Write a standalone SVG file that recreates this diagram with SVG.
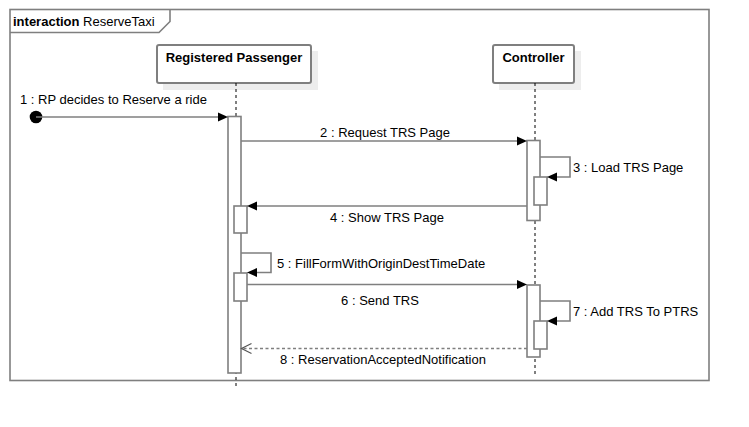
<svg xmlns="http://www.w3.org/2000/svg" width="749" height="427" viewBox="0 0 749 427">
<style>
text{font-family:"Liberation Sans",Arial,sans-serif;font-size:13px;fill:#000}
.b{font-weight:bold}
.frame{fill:none;stroke:#7f7f7f;stroke-width:1.6}
.head{fill:#fff;stroke:#7f7f7f;stroke-width:2}
.shadow{fill:#ededed;stroke:none}
.life{stroke:#000;stroke-width:1;stroke-dasharray:3,3;fill:none}
.act{fill:#fff;stroke:#7f7f7f;stroke-width:1.6}
.msg{fill:none;stroke:#7f7f7f;stroke-width:1.6}
.ret{fill:none;stroke:#7f7f7f;stroke-width:1.6;stroke-dasharray:3,2.5}
.ah{fill:#000;stroke:none}
.oa{fill:none;stroke:#555;stroke-width:1.2}
</style>
<rect width="749" height="427" fill="#fff"/>
<g id="frame">
<rect class="frame" x="10" y="9.5" width="699" height="371"/>
<path class="frame" d="M10,32.5 H159 L170,21.5 V9.5"/>
<text x="13" y="25.5"><tspan class="b">interaction</tspan> ReserveTaxi</text>
</g>
<g id="registered-passenger">
<rect class="shadow" x="163" y="51" width="155" height="39"/>
<rect class="head" x="157" y="45" width="154" height="38" rx="2"/>
<text class="b" x="234" y="62" text-anchor="middle">Registered Passenger</text>
<line class="life" x1="236" y1="83" x2="236" y2="388"/>
<rect class="act" x="228" y="116.5" width="13" height="256.5"/>
<rect class="act" x="234" y="206" width="13" height="27"/>
<rect class="act" x="234" y="273" width="13" height="28"/>
</g>
<g id="controller">
<rect class="shadow" x="499" y="51" width="82" height="39"/>
<rect class="head" x="493" y="45" width="81" height="38" rx="2"/>
<text class="b" x="533.5" y="62" text-anchor="middle">Controller</text>
<line class="life" x1="535" y1="83" x2="535" y2="376"/>
<rect class="act" x="527" y="140.5" width="13" height="80"/>
<rect class="act" x="534" y="177" width="13" height="28"/>
<rect class="act" x="527" y="285" width="13" height="72"/>
<rect class="act" x="534" y="321" width="13" height="28"/>
</g>
<g id="connectors">
<circle cx="36" cy="117" r="6.3" fill="#000"/>
<line class="msg" x1="36" y1="117" x2="220" y2="117"/>
<path class="ah" d="M228,117 L218,112.5 L218,121.5 Z"/>
<text x="20" y="104">1 : RP decides to Reserve a ride</text>

<line class="msg" x1="241" y1="141" x2="519" y2="141"/>
<path class="ah" d="M527,141 L517,136.5 L517,145.5 Z"/>
<text x="385" y="137" text-anchor="middle">2 : Request TRS Page</text>

<path class="msg" d="M540,157 H570 V177 H555"/>
<path class="ah" d="M547,177 L557,172.5 L557,181.5 Z"/>
<text x="573" y="172">3 : Load TRS Page</text>

<line class="msg" x1="527" y1="206" x2="255" y2="206"/>
<path class="ah" d="M247,206 L257,201.5 L257,210.5 Z"/>
<text x="387" y="222" text-anchor="middle">4 : Show TRS Page</text>

<path class="msg" d="M241,253 H271 V272.5 H255"/>
<path class="ah" d="M247,272.5 L257,268 L257,277 Z"/>
<text x="277" y="268">5 : FillFormWithOriginDestTimeDate</text>

<line class="msg" x1="247" y1="284.5" x2="519" y2="284.5"/>
<path class="ah" d="M527,284.5 L517,280 L517,289 Z"/>
<text x="380" y="305" text-anchor="middle">6 : Send TRS</text>

<path class="msg" d="M540,301 H570 V321 H555"/>
<path class="ah" d="M547,321 L557,316.5 L557,325.5 Z"/>
<text x="573" y="316">7 : Add TRS To PTRS</text>

<line class="ret" x1="527" y1="348.5" x2="242" y2="348.5"/>
<path class="oa" d="M251.5,343.5 L241.5,348.5 L251.5,353.5"/>
<text x="383" y="364" text-anchor="middle">8 : ReservationAcceptedNotification</text>
</g>
</svg>
